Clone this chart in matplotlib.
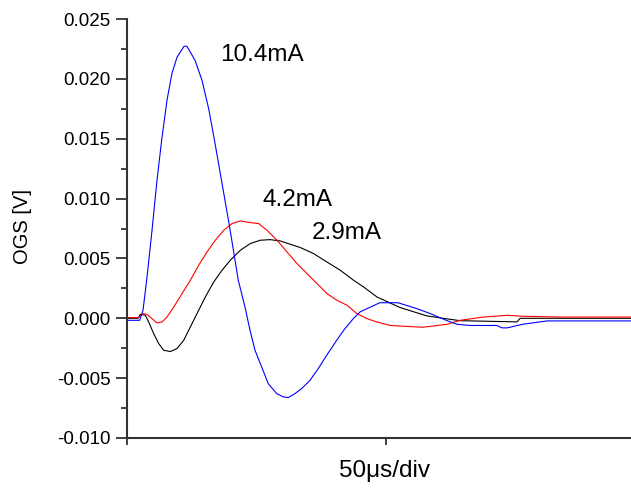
import numpy as np
import matplotlib.pyplot as plt

plt.rcParams['font.family'] = ['Liberation Sans', 'DejaVu Sans']

# time in microseconds, signal in volts
t_104 = [0, 2.45, 3.09, 3.86, 4.83, 5.79, 6.76, 7.72, 8.69, 9.65, 11.0, 11.58, 13.13,
         14.48, 15.83, 16.99, 18.34, 19.69, 21.49, 22.78, 23.75, 24.71, 26.0, 27.27,
         28.9, 30.17, 31.14, 32.43, 33.73, 35.33, 36.93, 38.55, 40.48, 42.08, 43.69,
         44.98, 48.8, 52.3, 56.0, 58.5, 61.8, 63.7, 66.2, 71.4, 72.4, 73.4, 76.4,
         81.1, 97.3]
v_104 = [-0.00017, -0.00017, 0.00067, 0.00343, 0.00735, 0.01153, 0.01512, 0.01821,
         0.02047, 0.0218, 0.02272, 0.02272, 0.02155, 0.01988, 0.01738, 0.01462,
         0.01128, 0.00794, 0.00317, 0.00094, -0.001, -0.00267, -0.00407, -0.00546,
         -0.00629, -0.00657, -0.00662, -0.00629, -0.00587, -0.00518, -0.0042,
         -0.00309, -0.00184, -0.00086, -0.00003, 0.00053, 0.0013, 0.0013, 0.0008,
         0.0004, -0.0002, -0.0005, -0.0006, -0.0006, -0.0008, -0.0008, -0.0005,
         -0.00022, -0.00022]

t_42 = [0, 2.26, 3.09, 3.86, 4.83, 5.79, 6.76, 7.72, 9.02, 10.62, 12.22, 13.84,
        15.44, 17.05, 18.67, 20.27, 21.87, 23.8, 25.42, 27.03, 28.96, 30.89, 32.82,
        34.75, 36.68, 38.61, 40.54, 42.47, 44.4, 46.33, 48.26, 50.8, 57.1, 61.8,
        64.3, 68.7, 73.4, 76.4, 84.2, 97.3]
v_42 = [0.00006, 0.00006, 0.00039, 0.00033, -0.00003, -0.00039, -0.00031, 0.00011,
        0.00094, 0.00206, 0.00317, 0.00443, 0.00554, 0.00652, 0.00735, 0.00791,
        0.00813, 0.00799, 0.00791, 0.00735, 0.00652, 0.00554, 0.00457, 0.00373,
        0.0029, 0.00206, 0.0015, 0.00109, 0.00039, -0.00003, -0.00031, -0.0006,
        -0.00075, -0.0005, -0.00017, 0.0001, 0.00025, 0.00017, 0.0001, 0.0001]

t_29 = [0, 2.12, 2.57, 3.53, 4.19, 5.15, 6.12, 7.08, 8.36, 9.65, 10.95, 12.22, 13.51,
        15.12, 16.74, 18.34, 19.94, 21.87, 23.8, 25.73, 27.66, 29.59, 31.53, 33.46,
        36.04, 38.61, 41.18, 43.76, 45.7, 48.26, 52.7, 57.9, 61.0, 64.3, 75.3, 75.9,
        97.3]
v_29 = [0.0, 0.0, 0.00033, 0.00025, -0.00031, -0.00128, -0.00211, -0.00267, -0.00278,
        -0.00253, -0.00184, -0.00073, 0.00039, 0.00178, 0.00303, 0.00401, 0.00485,
        0.00568, 0.00624, 0.00652, 0.00657, 0.00646, 0.00618, 0.00591, 0.0054,
        0.0047, 0.00401, 0.00317, 0.00261, 0.00178, 0.0009, 0.0002, 0.0, -0.0002,
        -0.0003, 0.0, 0.0]

yticks = np.arange(-0.010, 0.0251, 0.005)

fig = plt.figure(figsize=(6.31, 4.88), dpi=100)
ax = fig.add_axes([127 / 631, 50 / 488, 504 / 631, 419 / 488])

ax.plot(t_29, v_29, color='black', lw=0.8)
ax.plot(t_42, v_42, color='red', lw=0.8)
ax.plot(t_104, v_104, color='blue', lw=0.8)

ax.set_xlim(0, 97.3)
ax.set_ylim(-0.010, 0.025)
ax.spines['top'].set_visible(False)
ax.spines['right'].set_visible(False)
for s in ['left', 'bottom']:
    ax.spines[s].set_linewidth(1.5)
    ax.spines[s].set_color('#333333')

ax.set_yticks(yticks)
ax.set_yticklabels(['%.3f' % v for v in yticks])
ax.set_yticks(np.arange(-0.0075, 0.025, 0.005), minor=True)
ax.tick_params(axis='y', which='major', length=8, width=1.3, labelsize=13.5,
               color='#333333', pad=4)
ax.tick_params(axis='y', which='minor', length=4, width=1.3, color='#333333')
ax.set_xticks([0, 50])
ax.set_xticklabels([])
ax.tick_params(axis='x', which='major', length=5, width=1.3, color='#333333')

fig.text(22.5 / 631, 1 - 226 / 488, 'OGS [V]', fontsize=14.5, rotation=90,
         ha='center', va='center')
ax.set_xlabel('50\u03bcs/div', fontsize=17.5)
ax.xaxis.set_label_coords(258 / 504, -0.052)

ax.text(17.95, 0.0220, '10.4mA', fontsize=17.5, va='center')
ax.text(26.25, 0.00986, '4.2mA', fontsize=17.5, va='center')
ax.text(35.7, 0.00714, '2.9mA', fontsize=17.5, va='center')

fig.savefig('out.png', dpi=100)
